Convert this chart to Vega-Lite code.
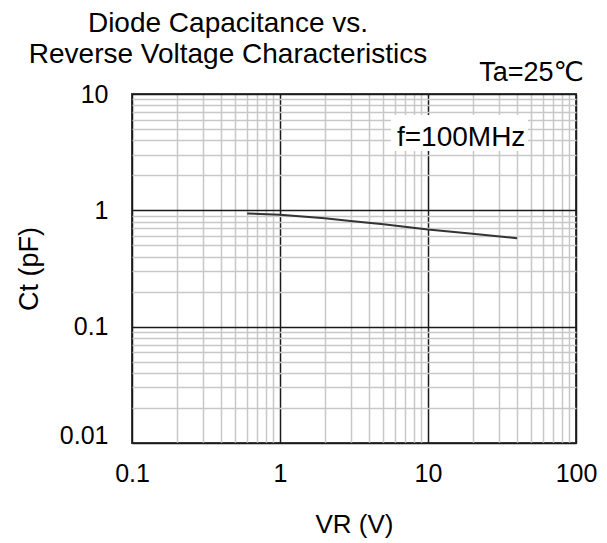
{
  "$schema": "https://vega.github.io/schema/vega-lite/v6.json",
  "autosize": "none",
  "padding": {"left": 132, "top": 94, "right": 31, "bottom": 100},
  "width": 444,
  "height": 349,
  "background": "white",
  "config": {
    "view": {"stroke": "#404040", "strokeWidth": 2},
    "font": "Liberation Sans",
    "axis": {"labelFont": "Liberation Sans", "titleFont": "Liberation Sans", "labelColor": "#000", "titleColor": "#000", "titleFontWeight": "normal", "labelFlush": false}
  },
  "title": {
    "text": ["Diode Capacitance vs.", "Reverse Voltage Characteristics"],
    "font": "Liberation Sans",
    "fontSize": 28,
    "fontWeight": "normal",
    "color": "#000",
    "anchor": "start",
    "frame": "group",
    "align": "center",
    "dx": 96,
    "dy": 16,
    "lineHeight": 31,
    "offset": 6
  },
  "datasets": {
    "curve": [
      {"VR": 0.6, "Ct": 0.94},
      {"VR": 1, "Ct": 0.915},
      {"VR": 2, "Ct": 0.855},
      {"VR": 3, "Ct": 0.81},
      {"VR": 5, "Ct": 0.76},
      {"VR": 10, "Ct": 0.685},
      {"VR": 20, "Ct": 0.63},
      {"VR": 40, "Ct": 0.575}
    ],
    "box": [{"VR": 5.62, "VR2": 47.4, "Ct": 6.59, "Ct2": 3.23}],
    "note_left": [{"VR": 6.17, "Ct": 3.56, "label": "f=100MHz"}],
    "note_right": [{"VR": 113, "Ct": 12.9, "label": "Ta=25℃"}]
  },
  "resolve": {"axis": {"x": "independent", "y": "independent"}},
  "layer": [
    {
      "data": {"name": "box"},
      "mark": {"type": "rect", "fill": "white", "stroke": null},
      "encoding": {
        "x": {"field": "VR", "type": "quantitative",
          "scale": {"type": "log", "domain": [0.1, 100], "nice": false},
          "axis": {"orient": "bottom", "values": [0.2,0.3,0.4,0.5,0.6,0.7,0.8,0.9,2,3,4,5,6,7,8,9,20,30,40,50,60,70,80,90], "labels": false, "ticks": false, "domain": false, "title": null, "grid": true, "gridColor": "#c8c8c8", "gridWidth": 1.5}},
        "x2": {"field": "VR2"},
        "y": {"field": "Ct", "type": "quantitative",
          "scale": {"type": "log", "domain": [0.01, 10], "nice": false},
          "axis": {"orient": "left", "values": [0.02,0.03,0.04,0.05,0.06,0.07,0.08,0.09,0.2,0.3,0.4,0.5,0.6,0.7,0.8,0.9,2,3,4,5,6,7,8,9], "labels": false, "ticks": false, "domain": false, "title": null, "grid": true, "gridColor": "#c8c8c8", "gridWidth": 1.5}},
        "y2": {"field": "Ct2"}
      }
    },
    {
      "data": {"name": "curve"},
      "mark": {"type": "line", "color": "#333333", "strokeWidth": 2},
      "encoding": {
        "x": {"field": "VR", "type": "quantitative",
          "axis": {"orient": "bottom", "values": [0.1, 1, 10, 100], "labelExpr": "datum.value < 1 ? '0.1' : format(datum.value, 'd')", "ticks": false, "domain": false, "grid": true, "gridColor": "#1a1a1a", "gridWidth": 1.5, "labelFontSize": 25, "labelPadding": 18, "labelFlush": false, "title": "VR (V)", "titleFontSize": 26, "titlePadding": 25}},
        "y": {"field": "Ct", "type": "quantitative",
          "axis": {"orient": "left", "values": [0.01, 0.1, 1, 10], "labelExpr": "datum.value < 0.1 ? '0.01' : datum.value < 1 ? '0.1' : format(datum.value, 'd')", "ticks": false, "domain": false, "grid": true, "gridColor": "#1a1a1a", "gridWidth": 1.5, "labelFontSize": 25, "labelPadding": 24, "labelFlush": false, "labelBaseline": {"condition": {"test": "datum.value <= 0.011", "value": "alphabetic"}, "value": "middle"}, "title": "Ct (pF)", "titleFontSize": 27, "titlePadding": 16}}
      }
    },
    {
      "data": {"name": "note_left"},
      "mark": {"type": "text", "fontSize": 28, "font": "Liberation Sans", "color": "#000", "baseline": "alphabetic", "align": "left"},
      "encoding": {
        "x": {"field": "VR", "type": "quantitative", "axis": null},
        "y": {"field": "Ct", "type": "quantitative", "axis": null},
        "text": {"field": "label"}
      }
    },
    {
      "data": {"name": "note_right"},
      "mark": {"type": "text", "fontSize": 27, "font": "Liberation Sans, DejaVu Sans", "color": "#000", "baseline": "alphabetic", "align": "right"},
      "encoding": {
        "x": {"field": "VR", "type": "quantitative", "axis": null},
        "y": {"field": "Ct", "type": "quantitative", "axis": null},
        "text": {"field": "label"}
      }
    }
  ]
}
